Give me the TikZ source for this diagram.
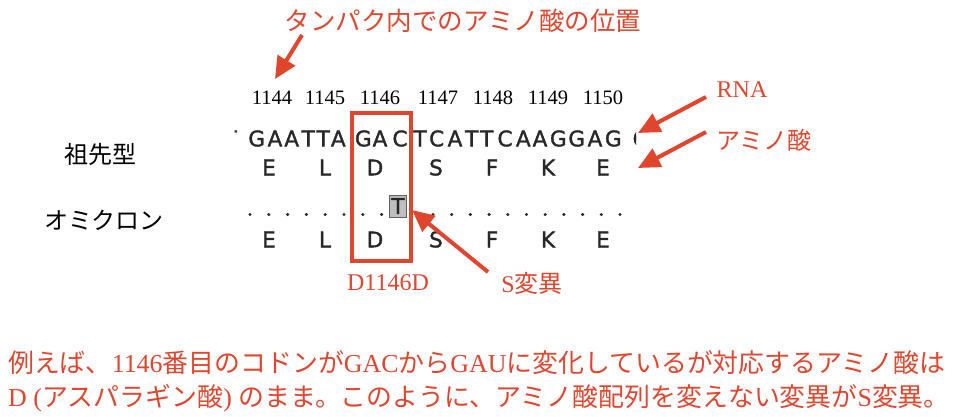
\documentclass[tikz,border=0pt]{standalone}
\usepackage{fontspec}
\setmainfont{Liberation Serif}
\newfontfamily\jp{Noto Sans CJK JP}
\newfontfamily\seqfont[FakeBold=1.6]{DejaVu Sans}
\usetikzlibrary{arrows.meta}
\definecolor{markred}{RGB}{224,70,45}
\definecolor{seqgray}{RGB}{40,40,40}

\begin{document}
\begin{tikzpicture}[x=1pt,y=-1pt,
    note/.style={text=markred,inner sep=0pt,font=\fontsize{24}{28}\selectfont},
    pointer/.style={draw=markred,line width=4pt,-{Triangle[length=22pt,width=20pt]}},
    base/.style={inner sep=0pt,text=seqgray,font=\seqfont\fontsize{21.5}{21.5}\selectfont},
    posnum/.style={inner sep=0pt,font=\fontsize{20.5}{20.5}\selectfont},
    rowname/.style={inner sep=0pt,font=\jp\fontsize{24}{28}\selectfont}]
    \useasboundingbox (0,0) rectangle (954,416);

    % Title
    \node[note,font=\jp\fontsize{25.5}{30}\selectfont] (title) at (463,21) {タンパク内でのアミノ酸の位置};
    \coordinate (titleTail) at (302,35);
    \coordinate (titleTip) at (275,79);
    \draw[pointer] (titleTail) -- (titleTip);

    % Positions
    \foreach \x/\n in {272/1144,325/1145,380/1146,438/1147,493/1148,548/1149,603/1150}
        \node[posnum] (pos\n) at (\x,98) {\n};

    % Ancestral sequence
    \begin{scope}
        \clip (234.5,120) rectangle (636,160);
        \foreach \x/\b [count=\i] in {230/T,256.7/G,275/A,291.7/A,308.3/T,323.3/T,338.3/A,363.3/G,380/A,
            400/C,420/T,436.7/C,455/A,471.7/T,486.7/T,505/C,523.3/A,540/A,558.3/G,576.7/G,595/A,613.3/G,641/G}
            \node[base] (nt\i) at (\x,138.5) {\b};
    \end{scope}
    \foreach \x/\a [count=\i] in {269/E,325/L,375/D,436/S,492/F,548/K,603/E}
        \node[base] (anc\i) at (\x,167.5) {\a};

    % Omicron sequence
    \foreach \i in {0,...,7}
        \fill[seqgray] ({250+\i*18.8},214.5) circle (1.7pt);
    \foreach \i in {0,...,10}
        \fill[seqgray] ({433+\i*18.7},214.5) circle (1.7pt);
    \node[base,draw=gray!75!black,fill=gray!50,line width=1pt,
        minimum width=17pt,minimum height=22pt] (mut) at (398,206) {T};
    \foreach \x/\a [count=\i] in {269/E,325/L,375/D,436/S,492/F,548/K,603/E}
        \node[base] (omi\i) at (\x,239.5) {\a};

    % Row names
    \node[rowname] (ancestor) at (100,154) {祖先型};
    \node[rowname] (omicron) at (104,220) {オミクロン};

    % Codon 1146
    \node[draw=markred,line width=3.5pt,inner sep=0pt,
        minimum width=59pt,minimum height=148pt] (codon) at (381.5,187) {};
    \node[note] (change) at (388,283) {D1146D};

    % RNA and amino acid
    \node[note] (rna) at (742,90) {RNA};
    \node[note,font=\jp\fontsize{24}{28}\selectfont] (amino) at (764,140) {アミノ酸};
    \coordinate (rnaTail) at (706,97);
    \coordinate (rnaTip) at (638,133);
    \coordinate (aminoTail) at (706,132);
    \coordinate (aminoTip) at (638,168);
    \draw[pointer] (rnaTail) -- (rnaTip);
    \draw[pointer] (aminoTail) -- (aminoTip);

    % Synonymous
    \node[note] (syn) at (532,283) {S{\jp 変異}};
    \coordinate (synTail) at (488,272);
    \coordinate (synTip) at (412,210);
    \draw[pointer] (synTail) -- (synTip);

    % Explanation
    \node[note,anchor=west,font=\fontsize{25.9}{30}\selectfont] (line1) at (8,363)
        {{\jp 例えば、}1146{\jp 番目のコドンが}GAC{\jp から}GAU{\jp に変化しているが対応するアミノ酸は}};
    \node[note,anchor=west,font=\fontsize{25.9}{30}\selectfont] (line2) at (8,398)
        {D ({\jp アスパラギン酸}) {\jp のまま。このように、アミノ酸配列を変えない変異が}S{\jp 変異。}};
\end{tikzpicture}
\end{document}
